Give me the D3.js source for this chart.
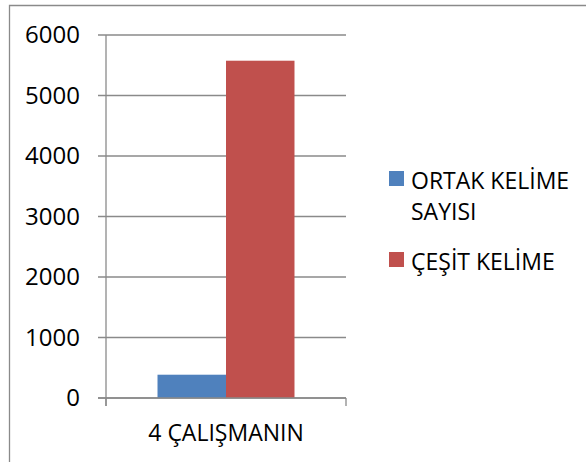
<!DOCTYPE html>
<html lang="tr">
<head>
  <meta charset="UTF-8">
  <title>Kelime Sayıları</title>
  <script src="https://d3js.org/d3.v7.min.js"></script>
  <style>
    html, body {
      margin: 0;
      padding: 0;
      background: #fff;
    }
    svg text {
      font-family: "Open Sans", "DejaVu Sans", sans-serif;
      fill: #000;
    }
  </style>
</head>
<body>
  <div id="chart"></div>

  <script>
    // Data
    const categories = ["4 ÇALIŞMANIN"];
    const seriesNames = ["ORTAK KELİME SAYISI", "ÇEŞİT KELİME"];
    const seriesValues = [[385], [5575]];   // one value per category
    const seriesColors = ["#4f81bd", "#c0504d"];
    const yTicks = [0, 1000, 2000, 3000, 4000, 5000, 6000];

    const width = 586;
    const height = 462;
    const plot = { left: 106, right: 346, top: 35, bottom: 398 };
    const gray = "#8a8a8a";

    const svg = d3.select("#chart")
      .append("svg")
      .attr("width", width)
      .attr("height", height);

    // outer frame (top and left edges are visible)
    svg.append("path")
      .attr("d", `M9.5,${height} V5.5 H${width}`)
      .attr("fill", "none")
      .attr("stroke", gray)
      .attr("stroke-width", 1.3);

    // Scales
    const yScale = d3.scaleLinear()
      .domain([0, 6000])
      .range([plot.bottom, plot.top]);

    const xScale = d3.scaleBand()
      .domain(categories)
      .range([plot.left, plot.right])
      .paddingInner(0)
      .paddingOuter(0.376);

    const xInner = d3.scaleBand()
      .domain(seriesNames)
      .range([0, xScale.bandwidth()]);

    // Gridlines (with little ticks reaching left of the axis)
    svg.append("g")
      .selectAll("line")
      .data(yTicks)
      .join("line")
      .attr("x1", plot.left - 8)
      .attr("x2", plot.right)
      .attr("y1", d => yScale(d))
      .attr("y2", d => yScale(d))
      .attr("stroke", gray)
      .attr("stroke-width", 1.3);

    // Y axis
    const yAxis = d3.axisLeft(yScale)
      .tickValues(yTicks)
      .tickSize(0)
      .tickPadding(26)
      .tickFormat(d3.format("d"));

    const yG = svg.append("g")
      .attr("transform", `translate(${plot.left}, 0)`)
      .call(yAxis);
    yG.select(".domain").remove();
    yG.selectAll("text").style("font-size", "24px");

    // Bars
    const groups = svg.append("g")
      .selectAll("g")
      .data(categories)
      .join("g")
      .attr("transform", d => `translate(${xScale(d)}, 0)`);

    groups.selectAll("rect")
      .data((d, ci) => seriesNames.map((s, si) => ({ s, si, v: seriesValues[si][ci] })))
      .join("rect")
      .attr("x", d => xInner(d.s))
      .attr("width", xInner.bandwidth())
      .attr("y", d => yScale(d.v))
      .attr("height", d => yScale(0) - yScale(d.v))
      .attr("fill", d => seriesColors[d.si]);

    // Y axis line
    svg.append("line")
      .attr("x1", plot.left).attr("x2", plot.left)
      .attr("y1", plot.top).attr("y2", plot.bottom + 8)
      .attr("stroke", gray)
      .attr("stroke-width", 1.3);

    // X axis: baseline, category boundary ticks, labels
    svg.append("line")
      .attr("x1", plot.left - 8).attr("x2", plot.right)
      .attr("y1", yScale(0)).attr("y2", yScale(0))
      .attr("stroke", gray)
      .attr("stroke-width", 1.3);

    const xAxis = d3.axisBottom(xScale)
      .tickSize(0)
      .tickPadding(27);

    const xG = svg.append("g")
      .attr("transform", `translate(0, ${yScale(0)})`)
      .call(xAxis);
    xG.select(".domain").remove();
    xG.selectAll("text").style("font-size", "23px");

    svg.append("g")
      .selectAll("line")
      .data([plot.left, plot.right])
      .join("line")
      .attr("x1", d => d).attr("x2", d => d)
      .attr("y1", yScale(0)).attr("y2", yScale(0) + 8)
      .attr("stroke", gray)
      .attr("stroke-width", 1.3);

    // Legend
    const legendLines = [["ORTAK KELİME", "SAYISI"], ["ÇEŞİT KELİME"]];
    const legendTops = [171, 252];

    const legend = svg.append("g")
      .attr("transform", "translate(389, 0)");

    legendLines.forEach((lines, i) => {
      legend.append("rect")
        .attr("x", 0)
        .attr("y", legendTops[i])
        .attr("width", 15)
        .attr("height", 15)
        .attr("fill", seriesColors[i]);

      const t = legend.append("text")
        .attr("x", 22)
        .attr("y", legendTops[i] + 18)
        .style("font-size", "23px");
      lines.forEach((line, j) => {
        t.append("tspan")
          .attr("x", 22)
          .attr("dy", j === 0 ? 0 : 31)
          .text(line);
      });
    });
  </script>
</body>
</html>
